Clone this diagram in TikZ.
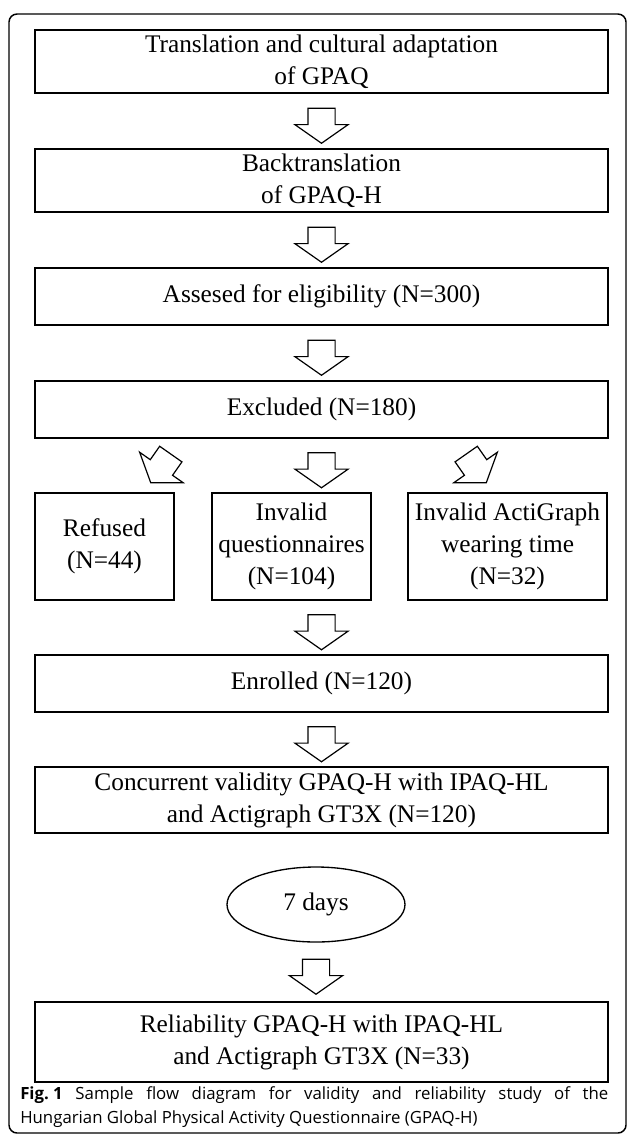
\documentclass[tikz,border=0pt]{standalone}
\usepackage{fontspec}
\setmainfont{Liberation Serif}
\newfontfamily\capfont{Open Sans}
\usetikzlibrary{calc}
\usetikzlibrary{shapes.arrows,shapes.geometric}

\tikzset{
  flowbox/.style={draw, line width=1.1pt, align=center, inner sep=0pt, minimum width=429.75pt, font=\fontsize{19}{24}\selectfont},
  blockarrow/.style={draw, line width=0.9pt, single arrow, inner xsep=0pt, inner ysep=9.75pt, minimum height=26.25pt, single arrow head extend=9.75pt, single arrow tip angle=110, rotate=#1},
  blockarrow/.default=-90
}

\begin{document}
\begin{tikzpicture}[x=0.75pt, y=-0.75pt]
\useasboundingbox (0,0) rectangle (629,1136);
\draw[line width=1.1pt, rounded corners=6pt] (9,14) rectangle (626,1133);

% main column
\node[flowbox, minimum height=47.25pt] (trans) at (321.5,61.5) {Translation and cultural adaptation\\of GPAQ};
\node[flowbox, minimum height=47.25pt] (back) at (321.5,180.5) {Backtranslation\\of GPAQ-H};
\node[flowbox, minimum height=42.75pt] (assess) at (321.5,296.5) {Assesed for eligibility (N=300)};
\node[flowbox, minimum height=42.75pt] (excl) at (321.5,409.5) {Excluded (N=180)};

% excluded
\node[flowbox, minimum width=104.25pt, minimum height=80.25pt] (refused) at (104.5,546.5) {Refused\\(N=44)};
\node[flowbox, minimum width=119.25pt, minimum height=80.25pt] (invq) at (291.5,546.5) {Invalid\\questionnaires\\(N=104)};
\node[flowbox, minimum width=149.25pt, minimum height=80.25pt] (inva) at (507.5,546.5) {Invalid ActiGraph\\wearing time\\(N=32)};

\node[flowbox, minimum height=42.75pt] (enrol) at (321.5,683.5) {Enrolled (N=120)};
\node[flowbox, minimum height=49.5pt] (conc) at (321.5,800) {Concurrent validity GPAQ-H with IPAQ-HL\\and Actigraph GT3X (N=120)};
\node[draw, ellipse, line width=1pt, inner sep=0pt, minimum width=133.5pt, minimum height=56.25pt, font=\fontsize{19}{24}\selectfont] (days) at (316,904.5) {7 days};
\node[flowbox, minimum height=60pt] (rel) at (321.5,1042) {Reliability GPAQ-H with IPAQ-HL\\and Actigraph GT3X (N=33)};

% arrows
\foreach \a/\b in {trans/back, back/assess, assess/excl, excl/invq, enrol/conc, days/rel} {
  \node[blockarrow] (\a-\b) at ($(\a.south)!0.5!(\a.south |- \b.north)$) {};
}
\node[blockarrow] (invq-enrol) at ($(enrol.north)!0.5!(enrol.north |- invq.south)$) {};
\node[blockarrow=-125] (excl-refused) at ($(excl-invq)+(-158,-1)$) {};
\node[blockarrow=-55] (excl-inva) at ($(excl-invq)+(152,-1)$) {};

\node[anchor=base west, inner sep=0pt, text width=441pt, align=justify, font=\capfont\fontsize{12.6}{18}\selectfont] (cap) at (20,1099)
  {\mbox{\textbf{Fig.~1}} Sample flow diagram for validity and reliability study of the\linebreak Hungarian Global Physical Activity Questionnaire (GPAQ-H)};
\end{tikzpicture}
\end{document}
